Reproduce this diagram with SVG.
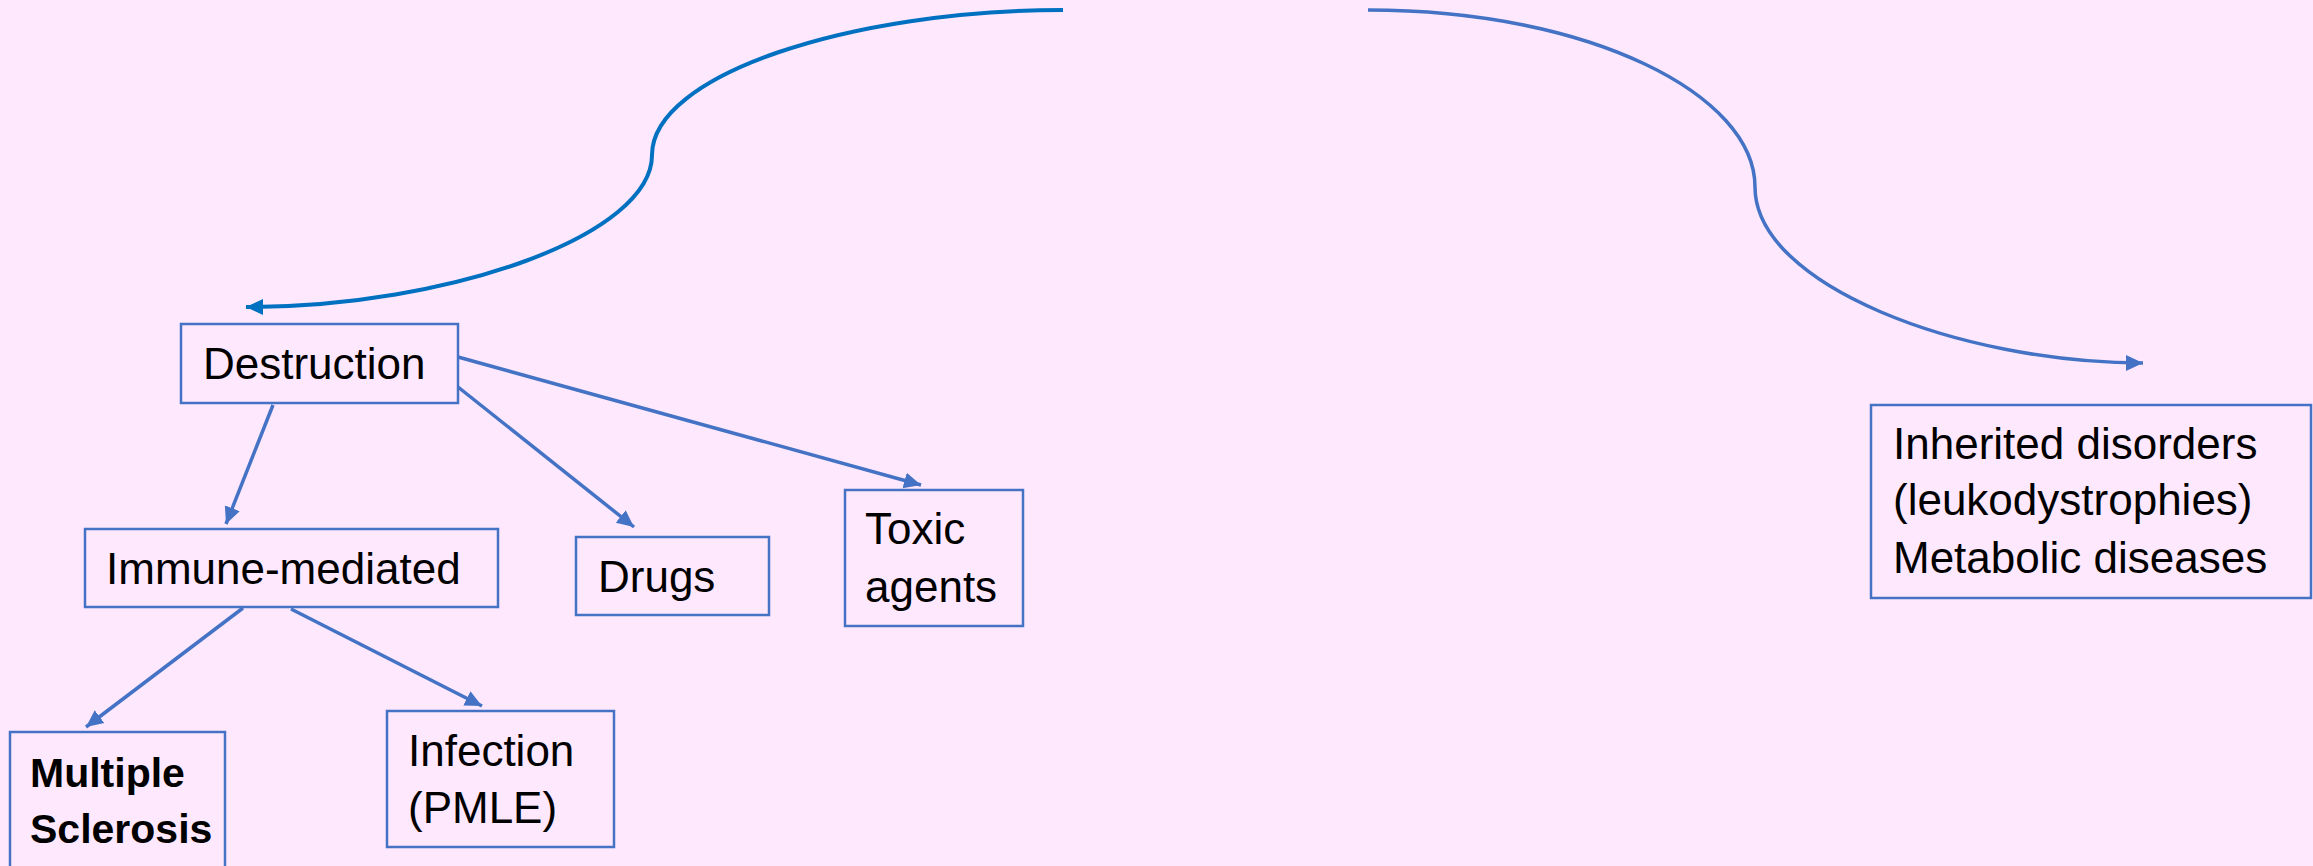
<svg xmlns="http://www.w3.org/2000/svg" width="2313" height="866" viewBox="0 0 2313 866">
<defs>
<style>
.box{fill:none;stroke:#4472C4;stroke-width:2.5}
.t{font-family:"Liberation Sans",Arial,sans-serif;font-size:44px;fill:#000}
.b{font-weight:bold;font-size:41px}
.c{fill:none;stroke:#4472C4;stroke-width:3.5}
.c2{fill:none;stroke:#0070C0;stroke-width:4}
</style>
<marker id="ah" markerUnits="userSpaceOnUse" markerWidth="18" markerHeight="18" refX="17" refY="9" orient="auto">
<path d="M0,1 L17,9 L0,17 z" fill="#4472C4"/>
</marker>
<marker id="ah2" markerUnits="userSpaceOnUse" markerWidth="18" markerHeight="18" refX="17" refY="9" orient="auto">
<path d="M0,1 L17,9 L0,17 z" fill="#0070C0"/>
</marker>
</defs>
<rect width="2313" height="866" fill="#FEE8FD"/>
<g id="connectors">
<path class="c2" d="M1063,10 C850,10 652,75 652,155 C652,235 450,307 246,307" marker-end="url(#ah2)"/>
<path class="c" d="M1368,10 C1590,10 1755,95 1755,187 C1755,285 1960,363 2143,363" marker-end="url(#ah)"/>
<line class="c" x1="273" y1="405" x2="226" y2="524" marker-end="url(#ah)"/>
<line class="c" x1="458" y1="387" x2="634" y2="527" marker-end="url(#ah)"/>
<line class="c" x1="458" y1="357" x2="921" y2="485" marker-end="url(#ah)"/>
<line class="c" x1="243" y1="608" x2="86" y2="727" marker-end="url(#ah)"/>
<line class="c" x1="291" y1="609" x2="482" y2="706" marker-end="url(#ah)"/>
</g>
<g id="destruction">
<rect class="box" x="181" y="324" width="277" height="79"/>
<text class="t" x="203" y="379">Destruction</text>
</g>
<g id="immune">
<rect class="box" x="85" y="529" width="413" height="78"/>
<text class="t" x="106" y="584">Immune-mediated</text>
</g>
<g id="drugs">
<rect class="box" x="576" y="537" width="193" height="78"/>
<text class="t" x="598" y="592">Drugs</text>
</g>
<g id="toxic">
<rect class="box" x="845" y="490" width="178" height="136"/>
<text class="t" x="865" y="544">Toxic</text>
<text class="t" x="865" y="602">agents</text>
</g>
<g id="ms">
<rect class="box" x="10" y="732" width="215" height="150"/>
<text class="t b" x="30" y="787">Multiple</text>
<text class="t b" x="30" y="843">Sclerosis</text>
</g>
<g id="infection">
<rect class="box" x="387" y="711" width="227" height="136"/>
<text class="t" x="408" y="766">Infection</text>
<text class="t" x="408" y="823">(PMLE)</text>
</g>
<g id="inherited">
<rect class="box" x="1871" y="405" width="440" height="193"/>
<text class="t" x="1893" y="459">Inherited disorders</text>
<text class="t" x="1893" y="515">(leukodystrophies)</text>
<text class="t" x="1893" y="573">Metabolic diseases</text>
</g>
</svg>
